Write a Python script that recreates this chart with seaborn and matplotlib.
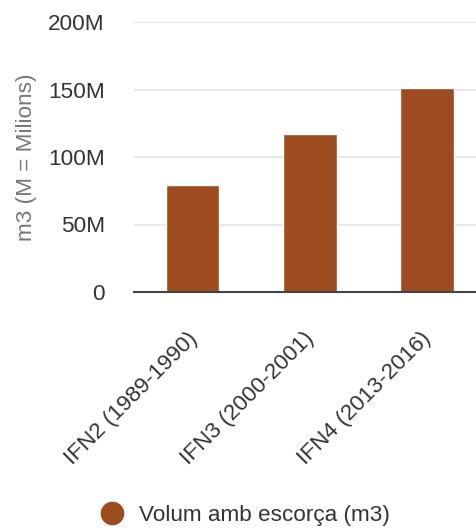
import pandas as pd
import matplotlib
matplotlib.use("Agg")
from matplotlib import pyplot as plt
from matplotlib.ticker import FuncFormatter
from matplotlib.lines import Line2D
from matplotlib.transforms import ScaledTranslation
import seaborn as sns

# dades
categories = ['IFN2 (1989-1990)', 'IFN3 (2000-2001)', 'IFN4 (2013-2016)']
volum = [79.3e6, 117.3e6, 151.0e6]
yticks = [0, 50e6, 100e6, 150e6, 200e6]
serie = 'Volum amb escorça (m3)'
ylabel = 'm3 (M = Milions)'
color = '#9c4c1f'

sns.set_style('white')
plt.rcParams['font.family'] = ['Liberation Sans', 'DejaVu Sans']
fs = 16.2

df = pd.DataFrame({'cat': categories, 'vol': volum})

fig = plt.figure(figsize=(4.77, 5.29), dpi=100)
ax = fig.add_axes([134/477, 1 - 292/529, 1 - 134/477, (292 - 22)/529])

sns.barplot(data=df, x='cat', y='vol', color=color, width=0.46, ax=ax,
            saturation=1, zorder=3)

ax.set_ylim(0, 200e6)
ax.set_xlim(-0.5, 2.43)
ax.set_yticks(yticks)
ax.yaxis.set_major_formatter(FuncFormatter(lambda v, p: '0' if v == 0 else f'{v/1e6:.0f}M'))
ax.grid(axis='y', color='#e3e3e3', linewidth=1.2, zorder=0)
for s in ['top', 'right', 'left']:
    ax.spines[s].set_visible(False)
ax.spines['bottom'].set_color('#444444')
ax.spines['bottom'].set_linewidth(1.5)
ax.spines['bottom'].set_zorder(4)
ax.tick_params(axis='both', length=0, labelsize=fs, labelcolor='#333333')
ax.tick_params(axis='y', pad=21)
ax.set_xlabel('')
ax.set_ylabel(ylabel, fontsize=fs, color='#777777', labelpad=8)
ax.tick_params(axis='x', pad=26)
shift = ScaledTranslation(-6/100, 0, fig.dpi_scale_trans)
for t in ax.get_xticklabels():
    t.set_rotation(45)
    t.set_ha('right')
    t.set_rotation_mode('anchor')
    t.set_transform(t.get_transform() + shift)

handle = Line2D([], [], marker='o', linestyle='', markersize=16,
                markerfacecolor=color, markeredgecolor=color)
fig.legend([handle], [serie], loc='center', bbox_to_anchor=(240/477, 1 - 515/529),
           frameon=False, fontsize=fs, handletextpad=0.2, labelcolor='#333333')

fig.savefig('out.png', dpi=100)
